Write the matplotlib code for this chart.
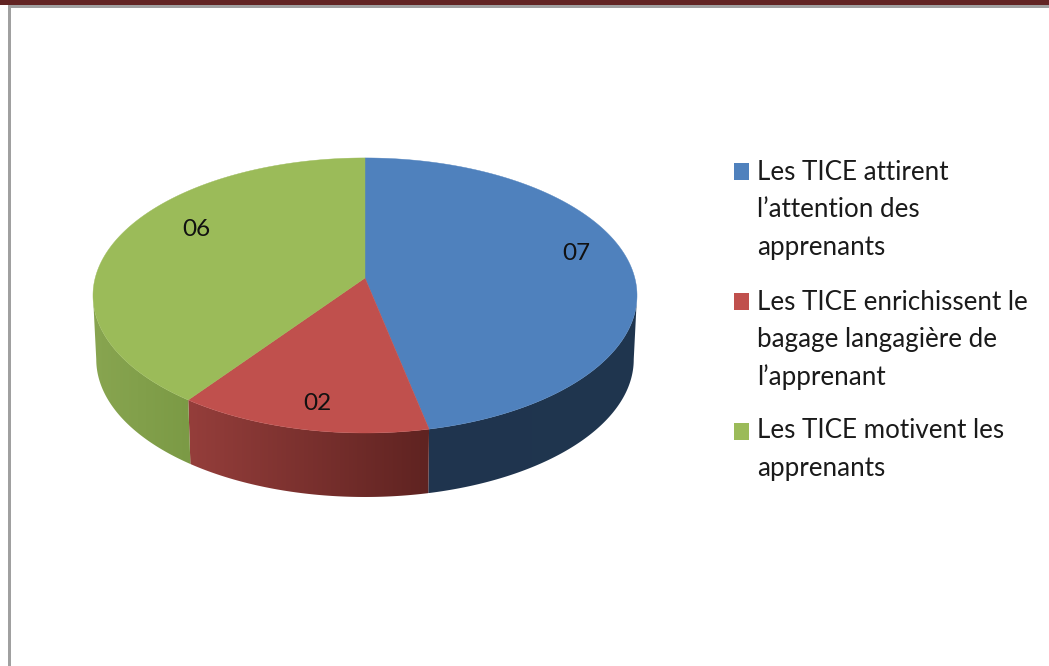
import numpy as np
import matplotlib
matplotlib.use("Agg")
import matplotlib.pyplot as plt
from matplotlib.patches import Polygon, Rectangle
from matplotlib.colors import to_rgb

values = [7, 2, 6]
value_labels = ["07", "02", "06"]
legend_labels = [
    ["Les TICE attirent", "l\u2019attention des", "apprenants"],
    ["Les TICE enrichissent le", "bagage langagière de", "l\u2019apprenant"],
    ["Les TICE motivent les", "apprenants"],
]
top_colors = ["#4f81bd", "#c0504d", "#9bbb59"]
side_left = ["#1f344e", "#953e3b", "#88a550"]
side_right = ["#20364f", "#5f2321", "#7b9a45"]

plt.rcParams["font.family"] = ["Lato", "DejaVu Sans"]

W, H = 1049, 666
fig = plt.figure(figsize=(W / 100, H / 100), dpi=100)
ax = fig.add_axes([0, 0, 1, 1])
ax.axis("off")

# cadre de la page
ax.add_patch(Rectangle((0, 0), W, 5, color="#622423", lw=0))
ax.add_patch(Rectangle((8, 5), W, 2.5, color="#a0a0a0", lw=0))
ax.add_patch(Rectangle((8, 5), 3, H, color="#a0a0a0", lw=0))


# cercle unité -> ellipse en perspective
def project(theta):
    u = np.sin(theta)
    v = -np.cos(theta)
    d = 1 - 0.127 * v
    return 365 + 269.8 * u / d, (100 * v + 278) / d


depth = 64
bottom_scale = 0.988
edges = np.cumsum([0] + values) / sum(values) * 2 * np.pi

# angles des extrêmes droite et gauche du bord : seul l'avant est visible
rim = np.linspace(0, 2 * np.pi, 1441)
rim_x = project(rim)[0]
theta_right = rim[np.argmax(rim_x)]
theta_left = rim[np.argmin(rim_x)]

# tranches latérales avec dégradé horizontal
for i in range(len(values)):
    thetas = np.linspace(max(edges[i], theta_right), min(edges[i + 1], theta_left), 240)
    xs, ys = project(thetas)
    xb = 365 + (xs - 365) * bottom_scale
    pts = list(zip(xs, ys)) + list(zip(xb[::-1], ys[::-1] + depth))
    clip = Polygon(pts, closed=True, transform=ax.transData, fc="none", ec="none")
    ax.add_patch(clip)
    c0, c1 = np.array(to_rgb(side_left[i])), np.array(to_rgb(side_right[i]))
    grad = np.linspace(0, 1, 256)[None, :, None]
    img = c0 + (c1 - c0) * grad
    im = ax.imshow(img, extent=[min(xs.min(), xb.min()), max(xs.max(), xb.max()),
                                ys.max() + depth, ys.min()],
                   aspect="auto", interpolation="bilinear", zorder=1)
    im.set_clip_path(clip)

# dessus du camembert
for i in range(len(values)):
    thetas = np.linspace(edges[i], edges[i + 1], 240)
    xs, ys = project(thetas)
    pts = [(365, 278)] + list(zip(xs, ys))
    ax.add_patch(Polygon(pts, closed=True, facecolor=top_colors[i],
                         edgecolor=top_colors[i], lw=0.3, zorder=2))

# étiquettes de valeurs
label_pos = [(576, 254), (317, 404), (196, 230)]
for (x, y), txt in zip(label_pos, value_labels):
    ax.text(x, y, txt, fontsize=17.5, ha="center", va="center",
            color="#111111", zorder=3)

# légende
swatch_top = [163, 293, 423]
line_top = [172, 302, 431]
for i, lines in enumerate(legend_labels):
    ax.add_patch(Rectangle((734, swatch_top[i]), 15, 16.5, color=top_colors[i], lw=0))
    for k, line in enumerate(lines):
        ax.text(757, line_top[i] + k * 37.7, line, fontsize=18.7, ha="left",
                va="center", color="#1a1a1a")

ax.set_xlim(0, W)
ax.set_ylim(H, 0)
fig.savefig("out.png", dpi=100)
